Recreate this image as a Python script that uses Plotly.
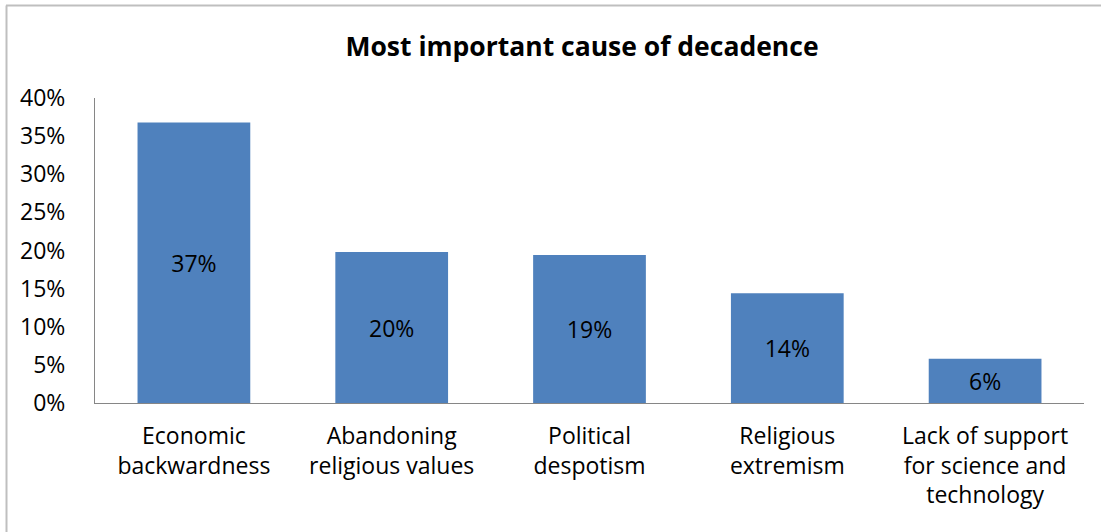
import plotly.graph_objects as go

categories = ["Economic<br>backwardness", "Abandoning<br>religious values", "Political<br>despotism",
              "Religious<br>extremism", "Lack of support<br>for science and<br>technology"]
values = [0.368, 0.198, 0.194, 0.144, 0.058]
labels = ["37%", "20%", "19%", "14%", "6%"]
y_ticks = [0, 0.05, 0.10, 0.15, 0.20, 0.25, 0.30, 0.35, 0.40]
y_ticktext = ["0%", "5%", "10%", "15%", "20%", "25%", "30%", "35%", "40%"]

FONT = "Open Sans"

fig = go.Figure(go.Bar(
    x=categories, y=values, text=labels,
    textposition="inside", insidetextanchor="middle",
    textfont=dict(family=FONT, size=23, color="black"),
    marker=dict(color="#4F81BD", line=dict(width=0)),
    cliponaxis=False,
))

W, H = 1103, 532
L, R, T, B = 95, 1084, 98, 403

def px(p):
    return (p - L) / (R - L)

def py(p):
    return (B - p) / (B - T)

fig.update_layout(
    width=W, height=H,
    margin=dict(l=L, r=W - R, t=T, b=H - B, autoexpand=False),
    paper_bgcolor="white", plot_bgcolor="white",
    bargap=0.43,
    showlegend=False,
    font=dict(family=FONT, size=23, color="black"),
    title=dict(text="<b>Most important cause of decadence</b>",
               font=dict(family=FONT, size=26.5, color="black"),
               x=582 / W, xanchor="center", y=1 - 47 / H, yanchor="middle"),
    xaxis=dict(showline=True, linecolor="#868686", linewidth=1, ticks="",
               tickfont=dict(family=FONT, size=23, color="black"),
               showgrid=False, ticklabelstandoff=12),
    yaxis=dict(range=[0, 0.4], tickvals=y_ticks, ticktext=y_ticktext,
               showline=True, linecolor="#868686", linewidth=1, ticks="",
               showgrid=False, zeroline=False,
               tickfont=dict(family=FONT, size=23, color="black"),
               ticklabelstandoff=24),
    shapes=[
        dict(type="line", xref="paper", yref="paper", x0=px(6), x1=px(1101), y0=py(5.5), y1=py(5.5),
             line=dict(color="#BFBFBF", width=2)),
        dict(type="line", xref="paper", yref="paper", x0=px(6.5), x1=px(6.5), y0=py(5.5), y1=py(540),
             line=dict(color="#BFBFBF", width=2)),
    ],
)

fig.write_html("out.html", config={"displayModeBar": False},
               post_script="document.body.style.margin='0';")
